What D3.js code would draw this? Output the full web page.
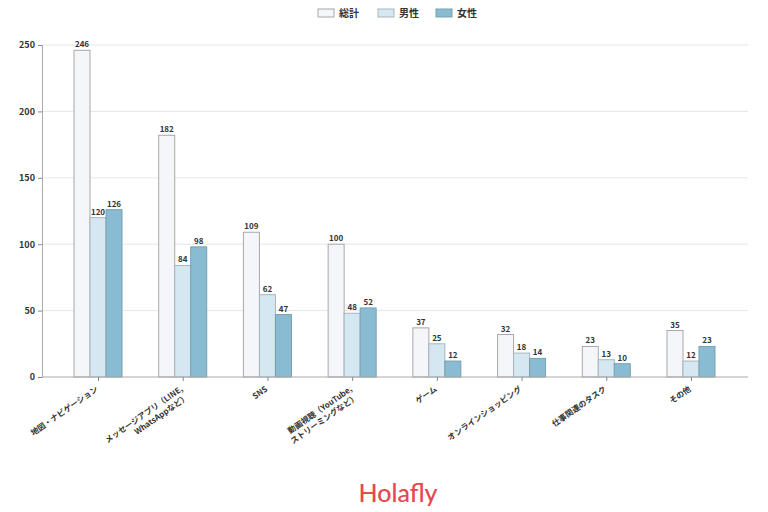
<!DOCTYPE html>
<html><head><meta charset="utf-8">
<script src="https://cdn.jsdelivr.net/npm/d3@7"></script>
<style>
body{margin:0;background:#fff;}
svg{font-family:"Noto Sans CJK JP","Noto Sans",sans-serif;}
</style></head>
<body><svg id="c" width="768" height="512"></svg>
<script>
const categories = [["地図・ナビゲーション"],["メッセージアプリ（LINE,","WhatsAppなど）"],["SNS"],["動画視聴（YouTube,","ストリーミングなど）"],["ゲーム"],["オンラインショッピング"],["仕事関連のタスク"],["その他"]];
const seriesNames = ["総計","男性","女性"];
const total = [246,182,109,100,37,32,23,35];
const male = [120,84,62,48,25,18,13,12];
const female = [126,98,47,52,12,14,10,23];
const yTicks = [0,50,100,150,200,250];
const colors = ["#f4f6fa","#d5e8f2","#89bcd2"];
const strokes = ["#a8a8a8","#a8b4bc","#7a9fb0"];

(function(){
const svg = d3.select("#c");
const pL = 42, pR = 748, pT = 45, pB = 377;
const y = d3.scaleLinear().domain([0,250]).range([pB, pT]);
const idx = d3.range(categories.length);
const x = d3.scalePoint().domain(idx).range([98, 691]);
const off = d3.scaleBand().domain([0,1,2]).range([-24, 24]);
const series = [total, male, female];

svg.append("g").selectAll("line").data(yTicks.filter(d=>d>0)).join("line")
  .attr("x1", pL).attr("x2", pR).attr("y1", d=>y(d)).attr("y2", d=>y(d))
  .attr("stroke", "#e6e6e6").attr("stroke-width", 1);

series.forEach((s, si) => {
  const g = svg.append("g");
  g.selectAll("rect").data(idx).join("rect")
    .attr("x", i => x(i) + off(si))
    .attr("y", i => y(s[i]))
    .attr("width", off.bandwidth())
    .attr("height", i => pB - y(s[i]))
    .attr("fill", colors[si]).attr("stroke", strokes[si]).attr("stroke-width", 1);
  g.selectAll("text").data(idx).join("text")
    .attr("x", i => x(i) + off(si) + off.bandwidth()/2)
    .attr("y", i => y(s[i]) - 3)
    .attr("text-anchor", "middle").attr("font-size", 8).attr("font-weight", "bold")
    .attr("fill", "#333").text(i => s[i]);
});

const ya = svg.append("g").attr("transform", `translate(${pL},0)`)
  .call(d3.axisLeft(y).tickValues(yTicks).tickSize(4).tickPadding(3));
ya.select(".domain").attr("stroke", "#aaa");
ya.selectAll(".tick line").attr("stroke", "#888");
ya.selectAll("text").attr("font-size", 9).attr("font-weight", "bold").attr("fill", "#333")
  .attr("font-family", '"Noto Sans CJK JP",sans-serif');

const xa = svg.append("g").attr("transform", `translate(0,${pB})`)
  .call(d3.axisBottom(x).tickSize(4).tickFormat(""));
xa.select(".domain").attr("d", `M${pL},0H${pR}`).attr("stroke", "#aaa");
xa.selectAll(".tick line").attr("stroke", "#888");

const lab = svg.append("g");
idx.forEach(i => {
  const lines = categories[i];
  const t = lab.append("text")
    .attr("transform", `translate(${x(i)-1},${pB+11}) rotate(-35)`)
    .attr("text-anchor", "end").attr("font-size", 8).attr("font-weight", "bold").attr("fill", "#333");
  lines.forEach((l, li) => {
    t.append("tspan").attr("x", 0).attr("y", li*10).attr("dy", "0.35em").text(l);
  });
});

const lg = svg.append("g");
const lx = [318, 378, 436];
seriesNames.forEach((n, si) => {
  lg.append("rect").attr("x", lx[si]).attr("y", 9).attr("width", 16).attr("height", 8)
    .attr("fill", colors[si]).attr("stroke", strokes[si]);
  lg.append("text").attr("x", lx[si]+21).attr("y", 13).attr("dy", "0.35em")
    .attr("font-size", 10).attr("font-weight", "bold").attr("fill", "#333").text(n);
});

svg.append("text").attr("x", 398).attr("y", 502).attr("text-anchor", "middle")
  .attr("font-family", "Lato, Inter, sans-serif").attr("font-size", 25).attr("font-weight", "500")
  .attr("fill", "#e5484f").text("Holafly");
})();
</script></body></html>
